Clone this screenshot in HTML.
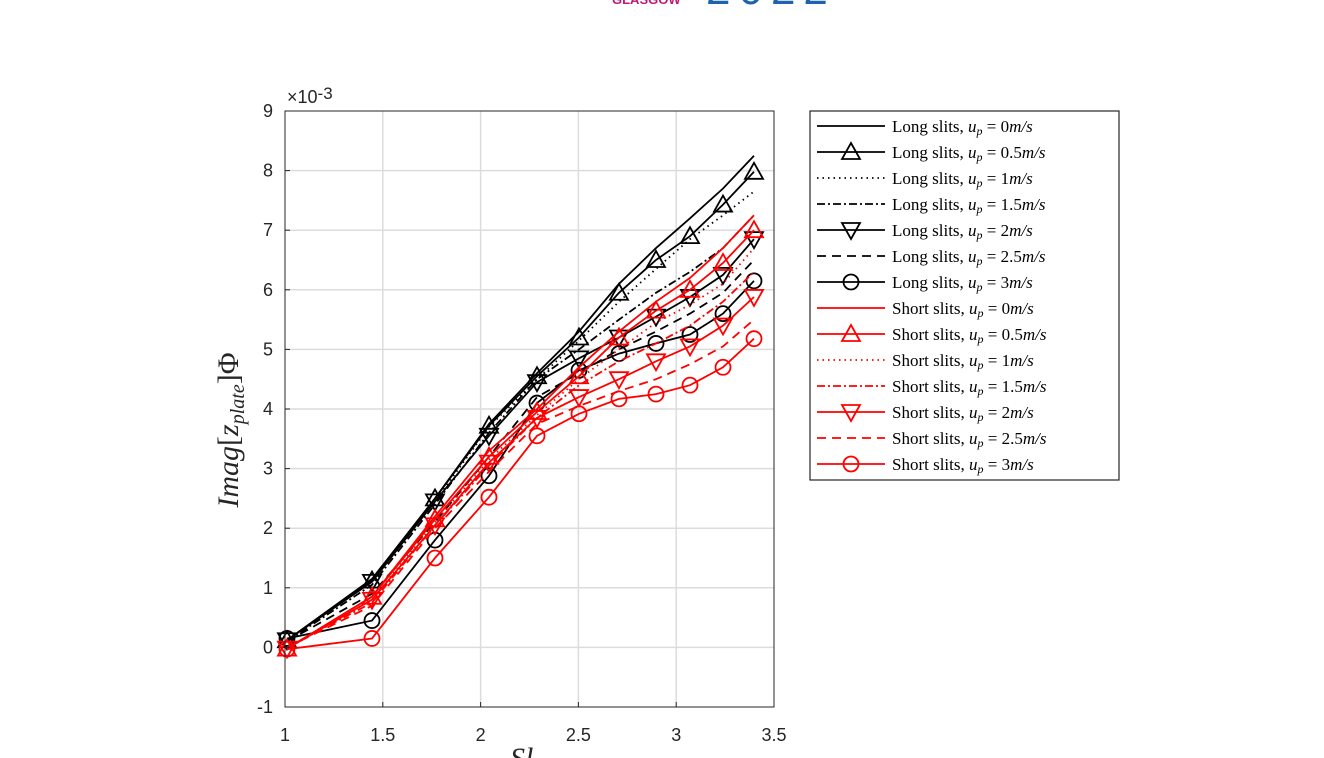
<!DOCTYPE html>
<html><head><meta charset="utf-8"><style>
body{margin:0;background:#fff;width:1324px;height:758px;overflow:hidden;position:relative}
svg{position:absolute;left:0;top:0}
</style></head><body>
<svg id="s" width="1324" height="758" xmlns="http://www.w3.org/2000/svg" font-family="Liberation Sans, Arial, sans-serif">
<text x="612" y="4" font-size="13" font-weight="bold" fill="#c0187a">GLASGOW</text>
<text x="706" y="4" font-size="44" fill="#1f63b0" letter-spacing="8">2022</text>
<rect x="285" y="111" width="489" height="596" fill="#fff"/>
<g id="grid" stroke="#dcdcdc" stroke-width="1.5"></g>
<g id="data"></g>
<rect x="285" y="111" width="489" height="596" fill="none" stroke="#262626" stroke-width="1"/>
<g id="ticks" font-size="18" fill="#262626"></g>
<text x="287" y="103" font-size="18" fill="#262626">×10<tspan font-size="17" dy="-4">-3</tspan></text>
<text transform="translate(238,430) rotate(-90)" text-anchor="middle" font-family="Liberation Serif, serif" font-size="30" fill="#262626"><tspan font-style="italic">Imag</tspan>[<tspan font-style="italic">z</tspan><tspan font-style="italic" font-size="20" dy="6">plate</tspan><tspan dy="-6">]Φ</tspan></text>
<text x="510" y="768" font-family="Liberation Serif, serif" font-style="italic" font-size="30" fill="#262626">Sl</text>
<rect x="810" y="111" width="309" height="369" fill="#fff" stroke="#262626" stroke-width="1.2"/>
<g id="leg"></g>
<g font-family="Liberation Serif, serif" font-size="17" fill="#000">
<text x="892" y="132">Long slits, <tspan font-style="italic">u</tspan><tspan font-style="italic" font-size="12" dy="3">p</tspan><tspan dy="-3"> = 0<tspan font-style="italic">m/s</tspan></tspan></text>
<text x="892" y="158">Long slits, <tspan font-style="italic">u</tspan><tspan font-style="italic" font-size="12" dy="3">p</tspan><tspan dy="-3"> = 0.5<tspan font-style="italic">m/s</tspan></tspan></text>
<text x="892" y="184">Long slits, <tspan font-style="italic">u</tspan><tspan font-style="italic" font-size="12" dy="3">p</tspan><tspan dy="-3"> = 1<tspan font-style="italic">m/s</tspan></tspan></text>
<text x="892" y="210">Long slits, <tspan font-style="italic">u</tspan><tspan font-style="italic" font-size="12" dy="3">p</tspan><tspan dy="-3"> = 1.5<tspan font-style="italic">m/s</tspan></tspan></text>
<text x="892" y="236">Long slits, <tspan font-style="italic">u</tspan><tspan font-style="italic" font-size="12" dy="3">p</tspan><tspan dy="-3"> = 2<tspan font-style="italic">m/s</tspan></tspan></text>
<text x="892" y="262">Long slits, <tspan font-style="italic">u</tspan><tspan font-style="italic" font-size="12" dy="3">p</tspan><tspan dy="-3"> = 2.5<tspan font-style="italic">m/s</tspan></tspan></text>
<text x="892" y="288">Long slits, <tspan font-style="italic">u</tspan><tspan font-style="italic" font-size="12" dy="3">p</tspan><tspan dy="-3"> = 3<tspan font-style="italic">m/s</tspan></tspan></text>
<text x="892" y="314">Short slits, <tspan font-style="italic">u</tspan><tspan font-style="italic" font-size="12" dy="3">p</tspan><tspan dy="-3"> = 0<tspan font-style="italic">m/s</tspan></tspan></text>
<text x="892" y="340">Short slits, <tspan font-style="italic">u</tspan><tspan font-style="italic" font-size="12" dy="3">p</tspan><tspan dy="-3"> = 0.5<tspan font-style="italic">m/s</tspan></tspan></text>
<text x="892" y="366">Short slits, <tspan font-style="italic">u</tspan><tspan font-style="italic" font-size="12" dy="3">p</tspan><tspan dy="-3"> = 1<tspan font-style="italic">m/s</tspan></tspan></text>
<text x="892" y="392">Short slits, <tspan font-style="italic">u</tspan><tspan font-style="italic" font-size="12" dy="3">p</tspan><tspan dy="-3"> = 1.5<tspan font-style="italic">m/s</tspan></tspan></text>
<text x="892" y="418">Short slits, <tspan font-style="italic">u</tspan><tspan font-style="italic" font-size="12" dy="3">p</tspan><tspan dy="-3"> = 2<tspan font-style="italic">m/s</tspan></tspan></text>
<text x="892" y="444">Short slits, <tspan font-style="italic">u</tspan><tspan font-style="italic" font-size="12" dy="3">p</tspan><tspan dy="-3"> = 2.5<tspan font-style="italic">m/s</tspan></tspan></text>
<text x="892" y="470">Short slits, <tspan font-style="italic">u</tspan><tspan font-style="italic" font-size="12" dy="3">p</tspan><tspan dy="-3"> = 3<tspan font-style="italic">m/s</tspan></tspan></text>
</g>
</svg>
<script>
var NS="http://www.w3.org/2000/svg";
function el(p,t,a){var e=document.createElementNS(NS,t);for(var k in a)e.setAttribute(k,a[k]);p.appendChild(e);return e;}
var X0=285,X1=774,Y0=707,Y1=111;
function px(v){return X0+(v-1)/2.5*(X1-X0);}
function py(v){return Y0-(v+1)/10*(Y0-Y1);}
var g=document.getElementById('grid'),tk=document.getElementById('ticks');
for(var i=0;i<6;i++){var v=1+i*0.5,x=px(v);if(i>0&&i<5)el(g,'line',{x1:x,x2:x,y1:Y1,y2:Y0});
 el(tk,'line',{x1:x,x2:x,y1:Y0,y2:Y0-5,stroke:'#262626'});
 var t=el(tk,'text',{x:x,y:741,'text-anchor':'middle'});t.textContent=String(v);}
for(var j=-1;j<=9;j++){var y=py(j);if(j>-1&&j<9)el(g,'line',{x1:X0,x2:X1,y1:y,y2:y});
 el(tk,'line',{x1:X0,x2:X0+5,y1:y,y2:y,stroke:'#262626'});
 var t=el(tk,'text',{x:273,y:y+6,'text-anchor':'end'});t.textContent=String(j);}
var xs=[287,372,435,489,537,579,619,656,690,723,754];
var S=[
['#000','n','',[0.12,1.15,2.5,3.75,4.6,5.3,6.1,6.7,7.2,7.7,8.25]],
['#000','t','',[0.12,1.12,2.5,3.72,4.55,5.2,5.95,6.5,6.9,7.43,7.98]],
['#000','n','1.5 4',[0.12,1.1,2.45,3.7,4.5,5.15,5.8,6.35,6.85,7.25,7.65]],
['#000','n','8 3 2 3',[0.1,1.05,2.4,3.6,4.5,5.0,5.5,5.95,6.3,6.7,7.25]],
['#000','d','',[0.12,1.1,2.45,3.55,4.45,4.85,5.2,5.55,5.88,6.25,6.85]],
['#000','n','9 6',[0.1,0.9,2.1,3.2,4.2,4.6,5.0,5.3,5.6,5.95,6.5]],
['#000','c','',[0.15,0.45,1.8,2.88,4.1,4.65,4.93,5.1,5.25,5.6,6.15]],
['#f00','n','',[-0.02,0.85,2.2,3.3,4.0,4.7,5.3,5.8,6.2,6.7,7.25]],
['#f00','t','',[-0.02,0.85,2.15,3.2,3.95,4.55,5.2,5.65,6.0,6.45,7.0]],
['#f00','n','1.5 4',[-0.02,0.8,2.1,3.15,3.9,4.5,5.0,5.45,5.75,6.1,6.7]],
['#f00','n','8 3 2 3',[0,0.75,2.05,3.05,3.85,4.4,4.8,5.1,5.4,5.8,6.3]],
['#f00','d','',[-0.02,0.8,2.05,3.1,3.85,4.2,4.5,4.8,5.05,5.4,5.88]],
['#f00','n','9 6',[0,0.7,2.0,2.95,3.75,4.05,4.3,4.5,4.75,5.05,5.5]],
['#f00','c','',[-0.03,0.15,1.5,2.52,3.55,3.92,4.17,4.25,4.4,4.7,5.18]]];
function mk(p,m,x,y,c){var a={fill:'none',stroke:c,'stroke-width':1.8};
 if(m=='t'){a.points=(x-9)+','+(y+7)+' '+(x+9)+','+(y+7)+' '+x+','+(y-9);el(p,'polygon',a);}
 else if(m=='d'){a.points=(x-9)+','+(y-7)+' '+(x+9)+','+(y-7)+' '+x+','+(y+9);el(p,'polygon',a);}
 else if(m=='c'){a.cx=x;a.cy=y;a.r=7.5;el(p,'circle',a);}}
var d=document.getElementById('data'),lg=document.getElementById('leg');
S.forEach(function(s,k){var pts=s[3].map(function(v,i){return xs[i]+','+py(v).toFixed(1);}).join(' ');
 var a={points:pts,fill:'none',stroke:s[0],'stroke-width':1.8};if(s[2])a['stroke-dasharray']=s[2];el(d,'polyline',a);
 s[3].forEach(function(v,i){mk(d,s[1],xs[i],py(v),s[0]);});
 var ly=126+k*26;var b={x1:817,x2:885,y1:ly,y2:ly,stroke:s[0],'stroke-width':1.8};if(s[2])b['stroke-dasharray']=s[2];el(lg,'line',b);
 mk(lg,s[1],851,ly,s[0]);});
</script>
</body></html>
